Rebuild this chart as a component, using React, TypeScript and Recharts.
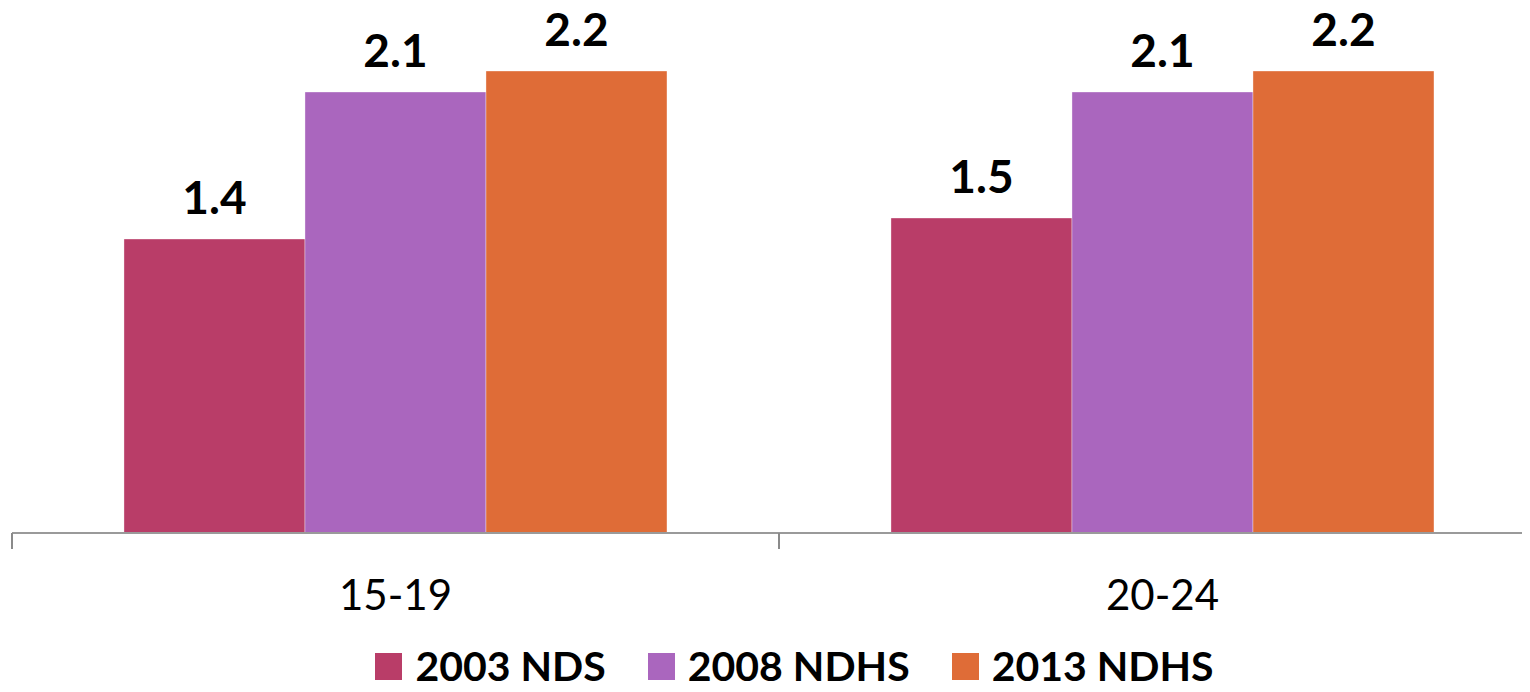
import { BarChart, Bar, XAxis, YAxis, LabelList, Legend } from 'recharts';

// age groups and survey values
const ageGroups = ['15-19', '20-24'];
const nds2003 = [1.4, 1.5];
const ndhs2008 = [2.1, 2.1];
const ndhs2013 = [2.2, 2.2];

const seriesNames = ['2003 NDS', '2008 NDHS', '2013 NDHS'];
const seriesColors = ['#B93D68', '#AA66BE', '#DF6C37'];

const data = ageGroups.map((age, i) => ({
  age,
  s2003: nds2003[i],
  s2008: ndhs2008[i],
  s2013: ndhs2013[i],
}));

const font = 'Lato, "Open Sans", sans-serif';
const TICK_SIZE = 0;
const TICK_MARGIN = 47;

const LegendBox = () => (
  <div
    style={{
      display: 'flex',
      justifyContent: 'center',
      alignItems: 'center',
      height: 38,
      lineHeight: '38px',
      fontFamily: font,
      fontWeight: 700,
      fontSize: 41,
      color: '#000',
      paddingLeft: 31,
    }}
  >
    {seriesNames.map((name, i) => (
      <div key={name} style={{ display: 'flex', alignItems: 'center', height: 38, marginLeft: i === 0 ? 0 : 42 }}>
        <span style={{ width: 27, height: 27, background: seriesColors[i], display: 'inline-block', marginRight: 13 }} />
        <span>{name}</span>
      </div>
    ))}
  </div>
);

// category label plus a tick mark on the category boundary (Excel style)
const AgeTick = (props: any) => {
  const { x, y, payload, index } = props;
  const half = payload?.offset ?? 0;
  const axisY = y - TICK_SIZE - TICK_MARGIN;
  return (
    <g>
      <line x1={x - half} x2={x - half} y1={axisY} y2={axisY + 16} stroke="#8a8a8a" strokeWidth={2} />
      {index === ageGroups.length - 1 && (
        <line x1={x + half} x2={x + half} y1={axisY} y2={axisY + 16} stroke="#8a8a8a" strokeWidth={2} />
      )}
      <text x={x} y={y} dy="0.71em" textAnchor="middle" fontFamily={font} fontSize={42} fill="#000">
        {payload.value}
      </text>
    </g>
  );
};

const keys = ['s2003', 's2008', 's2013'];

export default function App() {
  return (
    <div style={{ margin: -8, width: 1530, height: 692, overflow: 'hidden', background: '#fff' }}>
      <BarChart
        width={1546}
        height={692}
        data={data}
        margin={{ top: 8, right: 0, bottom: 0, left: 12 }}
        barCategoryGap="14.6%"
        barGap={0}
      >
        <XAxis
          dataKey="age"
          axisLine={{ stroke: '#9a9a9a', strokeWidth: 2 }}
          tickLine={false}
          tickSize={TICK_SIZE}
          height={121}
          tickMargin={TICK_MARGIN}
          tick={<AgeTick />}
          interval={0}
        />
        <YAxis hide domain={[0, 2.5]} />
        <Legend verticalAlign="bottom" content={<LegendBox />} wrapperStyle={{ bottom: 'auto', top: 647 }} />
        {keys.map((k, i) => (
          <Bar
            key={k}
            dataKey={k}
            name={seriesNames[i]}
            fill={seriesColors[i]}
            stroke="rgba(255,255,255,0.35)"
            strokeWidth={1}
            isAnimationActive={false}
          >
            <LabelList
              dataKey={k}
              position="top"
              offset={25}
              formatter={(v: number) => v.toFixed(1)}
              style={{ fontFamily: font, fontWeight: 700, fontSize: 46, fill: '#000' }}
            />
          </Bar>
        ))}
      </BarChart>
    </div>
  );
}
